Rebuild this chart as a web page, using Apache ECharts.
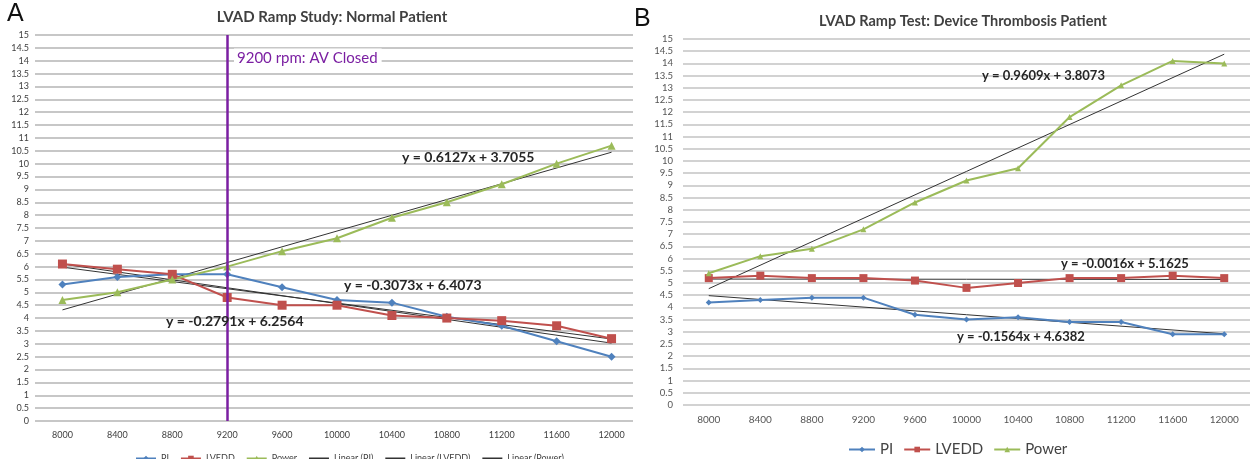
<!DOCTYPE html>
<html>
<head>
<meta charset="utf-8">
<script src="https://cdn.jsdelivr.net/npm/echarts@6/dist/echarts.min.js"></script>
<style>
  html, body { margin: 0; padding: 0; background: #fff; }
  #chart { width: 1250px; height: 459px; }
</style>
</head>
<body>
<div id="chart"></div>
<script>
// Pump speed steps (rpm), shared by both ramp studies
const speeds = ['8000','8400','8800','9200','9600','10000','10400','10800','11200','11600','12000'];
const yTicks = 0.5;

// Panel A: normal patient
const normalPI    = [5.3, 5.6, 5.7, 5.7, 5.2, 4.7, 4.6, 4.05, 3.7, 3.1, 2.5];
const normalLVEDD = [6.1, 5.9, 5.7, 4.8, 4.5, 4.5, 4.1, 4.0, 3.9, 3.7, 3.2];
const normalPower = [4.7, 5.0, 5.5, 6.0, 6.6, 7.1, 7.9, 8.5, 9.2, 10.0, 10.7];
// Linear fits [slope, intercept], x = step number 1..11
const normalFitPI    = [-0.3073, 6.4073];
const normalFitLVEDD = [-0.2791, 6.2564];
const normalFitPower = [0.6127, 3.7055];
const avClosedSpeed = '9200';

// Panel B: device thrombosis patient
const thrombPI    = [4.2, 4.3, 4.4, 4.4, 3.7, 3.5, 3.6, 3.4, 3.4, 2.9, 2.9];
const thrombLVEDD = [5.2, 5.3, 5.2, 5.2, 5.1, 4.8, 5.0, 5.2, 5.2, 5.3, 5.2];
const thrombPower = [5.4, 6.1, 6.4, 7.2, 8.3, 9.2, 9.7, 11.8, 13.1, 14.1, 14.0];
const thrombFitPI    = [-0.1564, 4.6382];
const thrombFitLVEDD = [-0.0016, 5.1625];
const thrombFitPower = [0.9609, 3.8073];

const C_PI = '#4F81BD', C_LVEDD = '#C0504D', C_POWER = '#9BBB59', C_TREND = '#333333', C_AV = '#7B1FA2';
const FONT = 'Lato, "Open Sans", sans-serif';

// Trend line through the first and last speed steps of a fitted equation
function trendData(fit) {
  const n = speeds.length;
  return speeds.map((_, i) => (i === 0 || i === n - 1) ? +(fit[0] * (i + 1) + fit[1]).toFixed(4) : '-');
}
function eqText(fit) {
  const s = fit[0] < 0 ? '-' + Math.abs(fit[0]).toFixed(4) : fit[0].toFixed(4);
  return 'y = ' + s + 'x + ' + fit[1].toFixed(4);
}

function dataSeries(name, data, color, symbol, size, idx) {
  return {
    name, type: 'line', data, xAxisIndex: idx, yAxisIndex: idx,
    symbol, symbolSize: size, color,
    lineStyle: { width: 2, color }, itemStyle: { color },
    z: 3, animation: false
  };
}
function trendSeries(name, fit, idx) {
  return {
    name, type: 'line', data: trendData(fit), xAxisIndex: idx, yAxisIndex: idx,
    connectNulls: true, showSymbol: false, symbol: 'none', color: C_TREND,
    lineStyle: { width: 1, color: C_TREND }, z: 2, animation: false
  };
}

function yAxis(idx, font, color, grid) {
  return {
    type: 'value', gridIndex: idx, min: 0, max: 15, interval: yTicks,
    axisLine: { show: false }, axisTick: { show: false },
    axisLabel: { fontSize: font, color, fontFamily: FONT, margin: idx === 0 ? 6 : 10 },
    splitLine: { lineStyle: grid }
  };
}
function xAxis(idx, font, color) {
  return {
    type: 'category', gridIndex: idx, data: speeds, boundaryGap: true,
    axisLine: { show: false }, axisTick: { show: false },
    axisLabel: { fontSize: font, color, fontFamily: FONT, margin: 10, interval: 0 }
  };
}

// Trend entries in the legend show the line only
const lineOnly = (name) => ({ name, itemStyle: { opacity: 0 } });

const chart = echarts.init(document.getElementById('chart'), null, { renderer: 'canvas' });

chart.setOption({
  backgroundColor: '#fff',
  animation: false,
  title: [
    { text: 'LVAD Ramp Study: Normal Patient', left: 327, top: 5, textAlign: 'center',
      textStyle: { fontSize: 15, fontWeight: 'bold', color: '#404040', fontFamily: FONT } },
    { text: 'LVAD Ramp Test: Device Thrombosis Patient', left: 958, top: 9, textAlign: 'center',
      textStyle: { fontSize: 14.5, fontWeight: 'bold', color: '#404040', fontFamily: FONT } }
  ],
  grid: [
    { left: 35, right: 611, top: 35, bottom: 38 },
    { left: 683, right: -12, top: 39, bottom: 54 }
  ],
  xAxis: [ xAxis(0, 9, '#404040'), xAxis(1, 10, '#555') ],
  yAxis: [
    yAxis(0, 9, '#404040', { color: '#b4b4b4', width: 1.5 }),
    yAxis(1, 9.5, '#555', { color: '#d2d2d2', width: 2 })
  ],
  legend: [
    { data: ['PI', 'LVEDD', 'Power', lineOnly('Linear (PI)'), lineOnly('Linear (LVEDD)'), lineOnly('Linear (Power)')],
      left: 130, top: 449, itemWidth: 20, itemHeight: 7, itemGap: 11,
      textStyle: { fontSize: 9, color: '#404040', fontFamily: FONT } },
    { data: ['PI', 'LVEDD', 'Power'], left: 843, top: 437, itemWidth: 26, itemHeight: 7, itemGap: 10,
      textStyle: { fontSize: 15, color: '#444', fontFamily: FONT } }
  ],
  series: [
    trendSeries('Linear (PI)', normalFitPI, 0),
    trendSeries('Linear (LVEDD)', normalFitLVEDD, 0),
    trendSeries('Linear (Power)', normalFitPower, 0),
    Object.assign(dataSeries('PI', normalPI, C_PI, 'diamond', 8, 0), {
      markLine: {
        silent: true, symbol: 'none', animation: false,
        lineStyle: { color: C_AV, width: 2.5, type: 'solid' },
        label: { show: false },
        data: [ { xAxis: avClosedSpeed } ]
      }
    }),
    dataSeries('LVEDD', normalLVEDD, C_LVEDD, 'rect', 9, 0),
    dataSeries('Power', normalPower, C_POWER, 'triangle', 8, 0),

    trendSeries('Trend PI (B)', thrombFitPI, 1),
    trendSeries('Trend LVEDD (B)', thrombFitLVEDD, 1),
    trendSeries('Trend Power (B)', thrombFitPower, 1),
    dataSeries('PI', thrombPI, C_PI, 'diamond', 6, 1),
    dataSeries('LVEDD', thrombLVEDD, C_LVEDD, 'rect', 8, 1),
    dataSeries('Power', thrombPower, C_POWER, 'triangle', 6, 1)
  ]
});

function eqLabel(fit, x, y, size) {
  return {
    type: 'text', x, y, z: 50,
    style: { text: eqText(fit), fontSize: size, fontWeight: 'bold', fill: '#262626',
             fontFamily: FONT, textAlign: 'left', textVerticalAlign: 'middle' }
  };
}

chart.setOption({
  graphic: [
    // white gap between the two panels
    { type: 'rect', shape: { x: 633, y: 28, width: 16, height: 400 }, style: { fill: '#fff' }, z: 40 },
    { type: 'text', x: 7, y: 2, z: 50,
      style: { text: 'A', fontSize: 25, fill: '#111', fontFamily: '"Liberation Sans", Arial, sans-serif' } },
    { type: 'text', x: 634, y: 7, z: 50,
      style: { text: 'B', fontSize: 25, fill: '#111', fontFamily: '"Liberation Sans", Arial, sans-serif' } },
    { type: 'text', x: 234, y: 58, z: 50,
      style: { text: '9200 rpm: AV Closed', fontSize: 15, fill: C_AV, fontFamily: FONT,
               textVerticalAlign: 'middle', backgroundColor: '#fff', padding: [2, 4, 2, 3] } },
    eqLabel(normalFitPower, 402, 157, 14),
    eqLabel(normalFitPI, 344, 285, 14),
    eqLabel(normalFitLVEDD, 166, 321, 14),
    eqLabel(thrombFitPower, 982, 76, 13),
    eqLabel(thrombFitLVEDD, 1061, 264, 13),
    eqLabel(thrombFitPI, 957, 337, 13)
  ]
});
</script>
</body>
</html>
